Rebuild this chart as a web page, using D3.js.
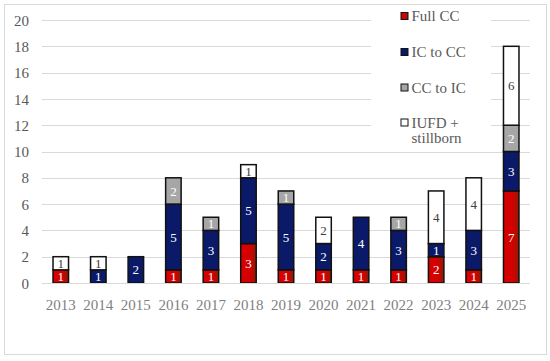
<!DOCTYPE html>
<html>
<head>
<meta charset="utf-8">
<script src="https://cdn.jsdelivr.net/npm/d3@7"></script>
<style>
  html, body { margin: 0; padding: 0; background: #fff; }
  svg { display: block; }
</style>
</head>
<body>
<svg id="chart" width="550" height="361"></svg>
<script>
const years = ["2013","2014","2015","2016","2017","2018","2019","2020","2021","2022","2023","2024","2025"];
const seriesNames = ["Full CC", "IC to CC", "CC to IC", "IUFD + stillborn"];
const fullCC   = [1,0,0,1,1,3,1,1,1,1,2,1,7];
const icToCC   = [0,1,2,5,3,5,5,2,4,3,1,3,3];
const ccToIC   = [0,0,0,2,1,0,1,0,0,1,0,0,2];
const iufd     = [1,1,0,0,0,1,0,2,0,0,4,4,6];
const yTicks   = [0,2,4,6,8,10,12,14,16,18,20];

const colors = ["url(#redGrad)", "#0b1a68", "#a6a6a6", "#ffffff"];
const labelColors = ["#ffffff", "#ffffff", "#ffffff", "#404040"];
const font = "'Liberation Serif', 'DejaVu Serif', serif";

const svg = d3.select("#chart");
const defs = svg.append("defs");
const g1 = defs.append("linearGradient").attr("id","redGrad").attr("x1","0").attr("x2","1").attr("y1","0").attr("y2","0");
g1.append("stop").attr("offset","0%").attr("stop-color","#d80000");
g1.append("stop").attr("offset","60%").attr("stop-color","#d40000");
g1.append("stop").attr("offset","100%").attr("stop-color","#8e1c06");

// outer border
svg.append("rect").attr("x",4.5).attr("y",4.5).attr("width",542).attr("height",350)
  .attr("fill","#fff").attr("stroke","#d9d9d9").attr("stroke-width",1);

const x = d3.scaleBand().domain(years).range([42, 530]).paddingInner(0.587).paddingOuter(0.2935);
const y = d3.scaleLinear().domain([0, 20]).range([283, 20]);

// gridlines
svg.append("g").selectAll("line").data(yTicks.filter(d => d > 0)).join("line")
  .attr("x1", 42).attr("x2", 530)
  .attr("y1", d => Math.round(y(d)) + 0.5).attr("y2", d => Math.round(y(d)) + 0.5)
  .attr("stroke", "#d9d9d9").attr("stroke-width", 1);

// legend background (covers gridlines)
svg.append("rect").attr("x", 371).attr("y", 6).attr("width", 120).attr("height", 140).attr("fill", "#fff");

// y axis labels
const yAxis = d3.axisLeft(y).tickValues(yTicks).tickSize(0).tickPadding(0);
const ya = svg.append("g").attr("transform", "translate(29,0)").call(yAxis);
ya.select(".domain").remove();
ya.selectAll("text").attr("font-family", font).attr("font-size", 15).attr("fill", "#595959").attr("dy", "0.34em");

// stacked data
const table = years.map((yr, i) => ({ year: yr, "Full CC": fullCC[i], "IC to CC": icToCC[i], "CC to IC": ccToIC[i], "IUFD + stillborn": iufd[i] }));
const stack = d3.stack().keys(seriesNames)(table);

const layers = svg.append("g").selectAll("g").data(stack).join("g");
layers.each(function(layer, li) {
  const sel = d3.select(this);
  const segs = layer.filter(d => d[1] - d[0] > 0);
  sel.selectAll("rect").data(segs).join("rect")
    .attr("x", d => x(d.data.year))
    .attr("width", x.bandwidth())
    .attr("y", d => y(d[1]))
    .attr("height", d => y(d[0]) - y(d[1]))
    .attr("fill", colors[li])
    .attr("stroke", "#111")
    .attr("stroke-width", 1.5);
  sel.selectAll("text").data(segs).join("text")
    .attr("x", d => x(d.data.year) + x.bandwidth() / 2)
    .attr("y", d => (y(d[0]) + y(d[1])) / 2)
    .attr("dy", "0.35em")
    .attr("text-anchor", "middle")
    .attr("font-family", font)
    .attr("font-size", 13)
    .attr("fill", labelColors[li])
    .text(d => d[1] - d[0]);
});

// x axis line
svg.append("line").attr("x1", 42).attr("x2", 530).attr("y1", 283.5).attr("y2", 283.5)
  .attr("stroke", "#d9d9d9").attr("stroke-width", 1);

// x axis labels
const xAxis = d3.axisBottom(x).tickSize(0).tickPadding(0);
const xa = svg.append("g").attr("transform", "translate(0,299)").call(xAxis);
xa.select(".domain").remove();
xa.selectAll("text").attr("font-family", font).attr("font-size", 15).attr("fill", "#7f7f7f").attr("dy", "0.71em");

// legend
const legendY = [16, 52, 87.5, 122.5];
const leg = svg.append("g");
seriesNames.forEach((name, i) => {
  leg.append("rect").attr("x", 401).attr("y", legendY[i] - 3.5).attr("width", 7).attr("height", 7)
    .attr("fill", colors[i]).attr("stroke", "#111").attr("stroke-width", 1);
  const t = leg.append("text").attr("x", 411.5).attr("y", legendY[i] + 5)
    .attr("font-family", font).attr("font-size", 15).attr("fill", "#595959");
  if (name === "IUFD + stillborn") {
    t.append("tspan").attr("x", 411.5).text("IUFD +");
    t.append("tspan").attr("x", 411.5).attr("dy", 15.5).text("stillborn");
  } else {
    t.text(name);
  }
});
</script>
</body>
</html>
